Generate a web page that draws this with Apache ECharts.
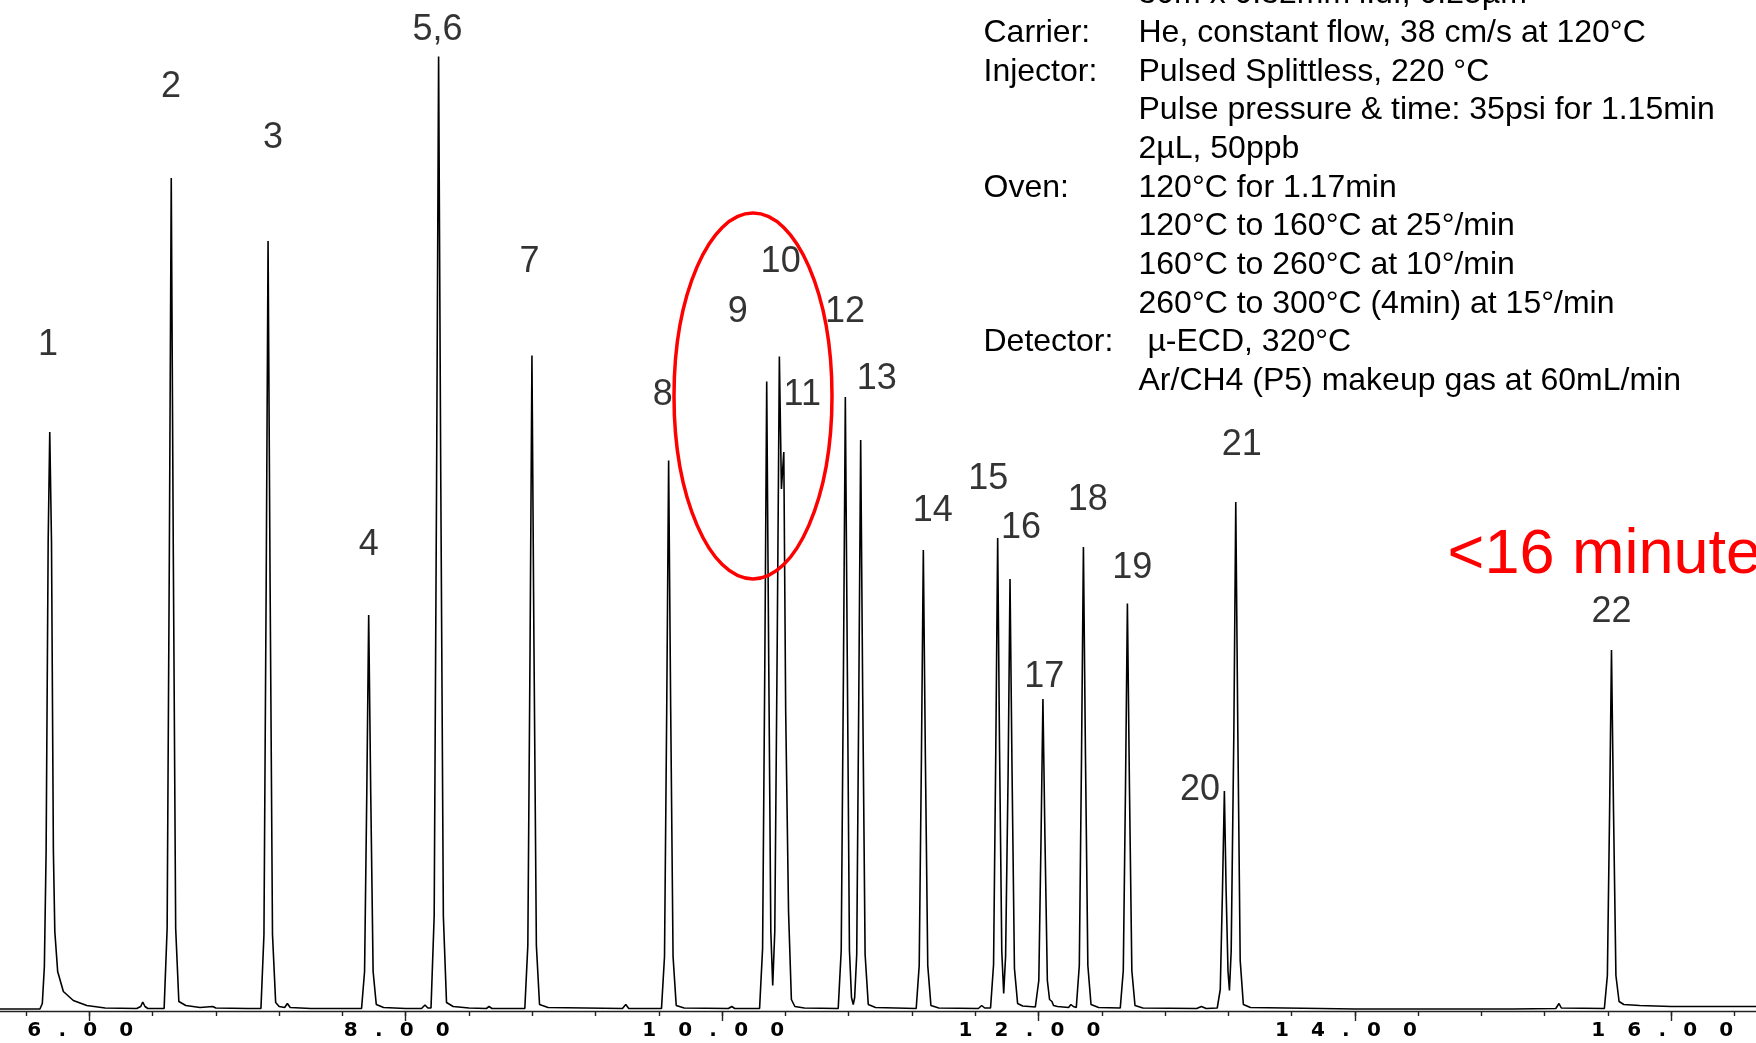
<!DOCTYPE html>
<html>
<head>
<meta charset="utf-8">
<title>GC-µECD chromatogram</title>
<script src="https://cdn.jsdelivr.net/npm/echarts@6/dist/echarts.min.js"></script>
<style>
  html, body { margin: 0; padding: 0; background: #fff; }
  #chart { width: 1756px; height: 1043px; }
</style>
</head>
<body>
<div id="chart"></div>
<script>
// retention time (min), detector signal
const traceEarly = [
  [5.43, 2.5], [5.60, 2.5], [5.688, 2.5], [5.703, 8], [5.716, 45], [5.727, 160], [5.740, 470],
  [5.750, 579.5], [5.761, 470], [5.773, 160], [5.782, 80], [5.800, 40], [5.836, 20], [5.899, 11],
  [5.984, 6], [6.10, 3.5], [6.30, 3], [6.325, 5], [6.338, 9.5], [6.352, 5], [6.37, 3],
  [6.473, 3], [6.492, 83], [6.506, 458], [6.518, 833.5], [6.531, 458], [6.546, 83], [6.566, 10],
  [6.61, 6], [6.70, 4], [6.78, 5], [6.80, 3.5], [7.00, 3],
  [7.085, 3], [7.104, 77], [7.118, 424], [7.130, 770.5], [7.143, 424], [7.158, 77], [7.178, 9],
  [7.20, 5], [7.235, 4], [7.252, 8], [7.27, 4], [7.40, 3],
  [7.721, 3], [7.740, 40], [7.754, 218], [7.766, 396.5], [7.779, 218], [7.794, 40], [7.814, 7],
  [7.86, 4], [8.00, 3]
];
const traceMid = [
  [8.10, 3], [8.122, 6.5], [8.14, 3.5],
  [8.160, 3.5], [8.180, 95.5], [8.195, 525], [8.208, 955], [8.222, 525], [8.238, 95.5], [8.258, 9],
  [8.30, 5], [8.40, 3.5], [8.51, 3], [8.527, 5], [8.545, 3],
  [8.753, 3], [8.772, 66], [8.786, 361], [8.798, 656], [8.811, 361], [8.826, 66], [8.846, 7],
  [8.90, 4], [9.37, 3], [9.391, 7], [9.41, 3],
  [9.617, 3], [9.636, 55], [9.650, 303], [9.662, 551], [9.675, 303], [9.690, 55], [9.710, 6],
  [9.76, 3.5], [10.04, 3], [10.061, 5], [10.08, 3],
  [10.237, 3], [10.256, 63], [10.270, 346], [10.282, 630], [10.295, 346], [10.308, 80], [10.320, 26],
  [10.333, 80], [10.348, 360], [10.362, 655], [10.375, 522.5], [10.390, 559.5], [10.402, 300],
  [10.420, 100], [10.438, 12], [10.46, 5], [10.52, 3.5],
  [10.734, 3], [10.753, 61], [10.767, 338], [10.779, 614.5], [10.792, 338], [10.805, 61], [10.818, 14],
  [10.829, 7], [10.838, 14], [10.851, 57], [10.864, 314], [10.876, 571.5], [10.889, 314], [10.904, 57],
  [10.924, 7], [10.97, 4]
];
const traceLate = [
  [11.227, 3], [11.246, 46], [11.260, 254], [11.272, 461.5], [11.285, 254], [11.300, 46], [11.320, 6],
  [11.37, 3.5], [11.62, 3], [11.641, 6], [11.66, 3.5],
  [11.697, 3.5], [11.716, 47], [11.730, 260], [11.742, 473.5], [11.754, 260], [11.768, 60], [11.780, 18],
  [11.792, 55], [11.808, 238], [11.820, 432.5], [11.833, 238], [11.848, 43], [11.868, 8], [11.90, 5.5],
  [11.98, 4.5], [12.002, 31], [12.016, 172], [12.028, 312.5], [12.041, 172], [12.056, 31], [12.070, 12],
  [12.085, 10], [12.095, 6], [12.12, 5], [12.19, 4], [12.205, 7], [12.22, 5],
  [12.239, 4], [12.258, 46], [12.272, 255], [12.284, 464.5], [12.297, 255], [12.312, 46], [12.332, 7],
  [12.38, 4], [12.517, 3.5], [12.536, 41], [12.550, 224], [12.562, 408], [12.575, 224], [12.590, 41],
  [12.610, 6], [12.66, 3.5], [13.00, 3], [13.03, 5], [13.06, 3],
  [13.130, 3.5], [13.149, 22], [13.163, 121], [13.175, 220.5], [13.186, 121], [13.198, 40], [13.207, 21],
  [13.218, 60], [13.235, 280], [13.247, 509.5], [13.260, 280], [13.275, 51], [13.295, 7], [13.34, 4],
  [14.0, 2.5], [15.0, 2.5], [15.27, 3], [15.290, 8], [15.305, 3.5],
  [15.577, 3], [15.596, 36], [15.610, 199], [15.622, 361.5], [15.635, 199], [15.650, 36], [15.670, 10],
  [15.70, 7], [15.80, 6], [16.0, 5], [16.54, 5]
];

// peak numbers and where their labels sit (time, signal)
const peakNames = ['1', '2', '3', '4', '5,6', '7', '8', '9', '10', '11', '12', '13', '14', '15', '16',
  '17', '18', '19', '20', '21', '22'];
const labelTimes = [5.739, 6.517, 7.162, 7.766, 8.201, 8.783, 9.625, 10.099, 10.370, 10.507, 10.777,
  10.977, 11.331, 11.683, 11.889, 12.037, 12.311, 12.593, 13.021, 13.285, 15.622];
const labelHeights = [666.5, 924, 873, 466.5, 981.5, 749, 616, 699, 749, 616, 699,
  632.5, 500, 532.5, 483, 334, 511, 443, 221, 566, 399.5];

const minorTicks = [5.6, 6.0, 6.4, 6.8, 7.2, 7.6, 8.0, 8.4, 8.8, 9.2, 9.6, 10.0, 10.4, 10.8, 11.2,
  11.6, 12.0, 12.4, 12.8, 13.2, 13.6, 14.0, 14.4, 14.8, 15.2, 15.6, 16.0, 16.4];
const majorTicks = [6, 8, 10, 12, 14, 16];

const conditionLabels = ['', 'Carrier:', 'Injector:', '', '', 'Oven:', '', '', '', 'Detector:', ''];
const conditionValues = [
  '30m x 0.32mm i.d., 0.25µm',
  'He, constant flow, 38 cm/s at 120°C',
  'Pulsed Splittless, 220 °C',
  'Pulse pressure & time: 35psi for 1.15min',
  '2µL, 50ppb',
  '120°C for 1.17min',
  '120°C to 160°C at 25°/min',
  '160°C to 260°C at 10°/min',
  '260°C to 300°C (4min) at 15°/min',
  ' µ-ECD, 320°C',
  'Ar/CH4 (P5) makeup gas at 60mL/min'
];

const FONT = '"Liberation Sans", Arial, sans-serif';
const tMin = 5.4355;
const tMax = 16.5355;

const chart = echarts.init(document.getElementById('chart'));

// wide, spaced-out tick labels: each character in its own fixed box
const tickLabel = v => v.toFixed(2).split('')
  .map(c => (c === '.' ? '{p|.}' : '{d|' + c + '}')).join('');

const tickFont = { fontSize: 20, fontWeight: 'bold', fontFamily: '"DejaVu Sans", sans-serif', color: '#000' };

const option = {
  animation: false,
  backgroundColor: '#fff',
  grid: { left: 0, right: 0, top: 0, bottom: 31.5, containLabel: false, outerBoundsMode: 'none' },
  xAxis: [
    {
      type: 'value',
      min: tMin,
      max: tMax,
      axisLine: { show: true, onZero: false, lineStyle: { color: '#222', width: 1.4 } },
      axisTick: { show: true, length: 4.5, customValues: minorTicks, lineStyle: { color: '#222', width: 1.4 } },
      axisLabel: { show: false },
      splitLine: { show: false }
    },
    {
      type: 'value',
      min: tMin,
      max: tMax,
      position: 'bottom',
      axisLine: { show: false },
      axisTick: { show: true, length: 9.5, customValues: majorTicks, lineStyle: { color: '#222', width: 1.4 } },
      axisLabel: Object.assign({
        show: true,
        customValues: majorTicks,
        margin: 9,
        padding: [0, 18, 0, 0],
        formatter: tickLabel,
        rich: {
          d: Object.assign({ width: 36, align: 'center' }, tickFont),
          p: Object.assign({ width: 20, align: 'center' }, tickFont)
        }
      }, tickFont),
      splitLine: { show: false }
    }
  ],
  yAxis: { type: 'value', min: 0, max: 1011.5, show: false },
  series: [
    {
      name: 'ECD signal',
      type: 'line',
      xAxisIndex: 0,
      data: traceEarly.concat(traceMid, traceLate),
      showSymbol: false,
      symbol: 'none',
      lineStyle: { color: '#000', width: 1.6 },
      silent: true,
      z: 3
    },
    {
      name: 'peaks',
      type: 'scatter',
      xAxisIndex: 0,
      data: peakNames.map((n, i) => ({ name: n, value: [labelTimes[i], labelHeights[i]] })),
      symbolSize: 1,
      itemStyle: { color: 'rgba(0,0,0,0)' },
      label: {
        show: true,
        position: 'inside',
        formatter: '{b}',
        fontSize: 36,
        fontFamily: FONT,
        color: '#000'
      },
      silent: true,
      z: 4
    }
  ],
  graphic: [
    {
      type: 'ellipse',
      shape: { cx: 753, cy: 396, rx: 79, ry: 183 },
      style: { fill: 'none', stroke: '#ff0000', lineWidth: 3.5 },
      z: 100
    },
    {
      type: 'text',
      x: 983.5,
      y: -25,
      style: { text: conditionLabels.join('\n'), fontSize: 32, fontFamily: FONT, lineHeight: 38.7, fill: '#000' },
      z: 100
    },
    {
      type: 'text',
      x: 1138.5,
      y: -25,
      style: { text: conditionValues.join('\n'), fontSize: 32, fontFamily: FONT, lineHeight: 38.7, fill: '#000' },
      z: 100
    },
    {
      type: 'text',
      x: 1447.6,
      y: 555.5,
      style: { text: '<16 minutes', fontSize: 63, fontFamily: FONT, fill: '#ff0000', textVerticalAlign: 'middle' },
      z: 100
    }
  ]
};

chart.setOption(option);
</script>
</body>
</html>
